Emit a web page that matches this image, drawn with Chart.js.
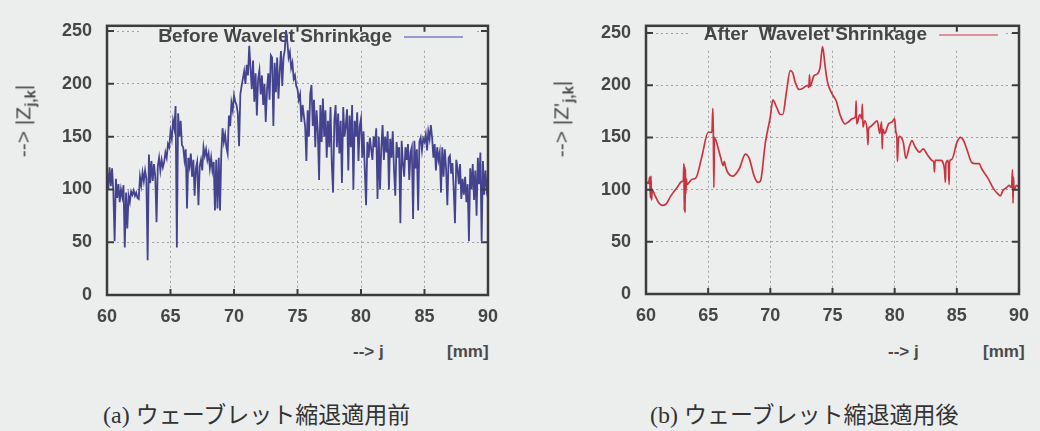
<!DOCTYPE html>
<html>
<head>
<meta charset="utf-8">
<script src="https://cdn.jsdelivr.net/npm/chart.js@4.4.1/dist/chart.umd.min.js"></script>
<style>
  html, body { margin: 0; padding: 0; background: #eceeed; }
  body { width: 1040px; height: 431px; position: relative; overflow: hidden;
         font-family: "Liberation Sans", Arial, sans-serif; color: #464646; }
  .box { position: absolute; top: 0; width: 520px; height: 340px; }
  .ytitle { position: absolute; transform: translate(-50%, -50%) rotate(-90deg);
            white-space: nowrap; font-size: 21px; color: #4a4a4a; }
  .ytitle sub { font-size: 15px; font-weight: bold; }
  .xt { position: absolute; font-size: 17px; font-weight: bold; transform: translateY(-50%); color: #4a4a4a; }
  .cap { position: absolute; top: 413px; transform: translateY(-50%); white-space: nowrap;
         font-family: "Liberation Serif", "Noto Sans CJK JP", serif; font-size: 24px; color: #333; }
  .cap span { font-family: "Noto Sans CJK JP", sans-serif; font-size: 23px; }
</style>
</head>
<body>
<div class="box" style="left:0"><canvas id="before"></canvas></div>
<div class="box" style="left:520px"><canvas id="after"></canvas></div>

<div class="ytitle" style="left:25px; top:121px">--&gt; |Z<sub>j,k</sub>|</div>
<div class="ytitle" style="left:563px; top:119px">--&gt; |Z'<sub>j,k</sub>|</div>
<div class="xt" style="left:353px; top:352px">--&gt; j</div>
<div class="xt" style="left:447px; top:352px">[mm]</div>
<div class="xt" style="left:888px; top:352px">--&gt; j</div>
<div class="xt" style="left:983px; top:352px">[mm]</div>
<div class="cap" style="left:103px">(a) <span>ウェーブレット縮退適用前</span></div>
<div class="cap" style="left:650px">(b) <span>ウェーブレット縮退適用後</span></div>

<script>
const xTicks = [60, 65, 70, 75, 80, 85, 90];
const yTicks = [0, 50, 100, 150, 200, 250];

// |Z_j,k| before shrinkage, one value every 0.1 mm from 60 to 90
const beforeStart = 60, beforeStep = 0.1;
const beforeVals = [
  118, 100, 121, 103, 120, 98, 51, 110, 92, 105,
  88, 100, 93, 104, 45, 97, 63, 94, 88, 98,
  95, 99, 94, 97, 92, 91, 112, 104, 116, 108,
  118, 110, 33, 133, 106, 127, 108, 124, 112, 69,
  122, 130, 118, 128, 121, 126, 135, 130, 143, 140,
  155, 148, 165, 158, 179, 45, 172, 150, 165, 142,
  140, 128, 138, 82, 130, 122, 134, 112, 128, 94,
  120, 126, 85, 122, 128, 118, 140, 132, 138, 128,
  134, 120, 130, 118, 126, 80, 128, 82, 130, 80,
  134, 158, 145, 152, 140, 134, 170, 160, 182, 175,
  189, 183, 180, 172, 141, 190, 198, 205, 212, 200,
  218, 208, 236, 215, 195, 222, 183, 210, 170, 205,
  213, 190, 208, 180, 200, 164, 195, 210, 185, 227,
  225, 160, 220, 192, 225, 186, 212, 231, 198, 225,
  232, 251, 240, 225, 230, 215, 220, 205, 208, 198,
  195, 185, 190, 164, 180, 170, 160, 127, 175, 150,
  190, 199, 160, 185, 140, 175, 155, 109, 180, 145,
  186, 150, 175, 130, 165, 140, 178, 124, 97, 165,
  180, 140, 172, 134, 165, 106, 178, 150, 160, 176,
  118, 170, 140, 180, 100, 165, 150, 173, 127, 160,
  167, 130, 155, 118, 85, 145, 130, 149, 138, 128,
  150, 140, 158, 91, 150, 100, 140, 161, 128, 150,
  135, 155, 100, 148, 130, 155, 118, 94, 145, 130,
  140, 68, 146, 125, 112, 140, 128, 143, 109, 135,
  140, 72, 146, 120, 138, 80, 145, 149, 137, 148,
  145, 152, 137, 155, 148, 161, 149, 130, 143, 118,
  140, 128, 135, 97, 140, 112, 138, 120, 85, 130,
  132, 115, 125, 100, 68, 128, 120, 105, 124, 91,
  110, 95, 112, 88, 105, 51, 120, 100, 124, 90,
  118, 75, 130, 105, 135, 51, 127, 95, 118, 100,
  108
];

// |Z'_j,k| after shrinkage (irregular sampling, denser around the spikes)
const afterX = [
  60.0, 60.2, 60.3, 60.35, 60.4, 60.45, 60.5, 60.7, 61.0, 61.3,
  61.6, 62.0, 62.5, 62.9, 63.0, 63.05, 63.08, 63.11, 63.14, 63.17,
  63.2, 63.25, 63.3, 63.7, 64.0, 64.5, 65.0, 65.3, 65.38, 65.42,
  65.46, 65.5, 65.6, 66.0, 66.2, 66.3, 66.4, 66.6, 67.0, 67.5,
  68.0, 68.3, 68.7, 69.0, 69.2, 69.6, 70.0, 70.2, 70.5, 70.8,
  71.0, 71.3, 71.6, 71.8, 72.0, 72.3, 72.6, 73.0, 73.1, 73.15,
  73.2, 73.5, 73.8, 74.0, 74.2, 74.4, 74.6, 75.0, 75.3, 75.6,
  76.0, 76.3, 76.6, 76.85, 76.9, 76.95, 77.2, 77.35, 77.4, 77.45,
  77.6, 77.8, 77.85, 77.9, 78.0, 78.3, 78.6, 78.8, 78.95, 79.0,
  79.05, 79.2, 79.5, 79.8, 80.0, 80.1, 80.18, 80.22, 80.3, 80.4,
  80.7, 80.9, 81.2, 81.4, 81.6, 82.0, 82.3, 82.6, 83.0, 83.15,
  83.2, 83.25, 83.7, 84.0, 84.08, 84.12, 84.3, 84.38, 84.42, 84.6,
  85.0, 85.3, 85.5, 85.8, 86.2, 86.5, 86.8, 87.0, 87.5, 88.0,
  88.3, 88.5, 88.7, 89.0, 89.2, 89.4, 89.48, 89.52, 89.56, 89.6,
  89.8, 90.0
];
const afterY = [
  108, 106, 112, 92, 113, 90, 100, 95, 88, 85,
  86, 94, 102, 108, 108, 125, 80, 122, 78, 120,
  96, 110, 105, 110, 111, 132, 155, 155, 178, 150,
  102, 150, 148, 131, 123, 127, 122, 116, 113, 120,
  134, 130, 113, 107, 108, 145, 170, 186, 179, 172,
  172, 194, 214, 212, 203, 196, 197, 200, 198, 210,
  199, 209, 211, 217, 237, 219, 203, 191, 185, 172,
  163, 165, 168, 170, 185, 163, 172, 168, 182, 160,
  166, 155, 143, 158, 160, 163, 166, 154, 165, 139,
  158, 154, 163, 165, 168, 155, 150, 127, 148, 151,
  145, 130, 142, 147, 142, 136, 139, 134, 128, 126,
  117, 128, 128, 120, 107, 125, 128, 105, 127, 129,
  145, 150, 148, 139, 126, 125, 125, 120, 111, 100,
  96, 94, 99, 102, 104, 102, 119, 87, 112, 100,
  104, 102
];

const PAPER = "#eceeed";
const INK = "#464646";

// gnuplot look: key over a blank band, heavy border, inward mirrored ticks
const gnuplotFrame = {
  id: "gnuplotFrame",
  beforeDatasetsDraw(chart, args, o) {
    const ctx = chart.ctx;
    const ds = chart.data.datasets[0];
    ctx.save();
    ctx.fillStyle = PAPER;
    ctx.fillRect(o.mask[0], o.mask[1], o.mask[2] - o.mask[0], o.mask[3] - o.mask[1]);
    ctx.font = "bold 19px 'Liberation Sans'";
    ctx.fillStyle = INK;
    ctx.textAlign = "right";
    ctx.textBaseline = "middle";
    ctx.fillText(ds.label, o.keyRight, o.keyY);
    ctx.strokeStyle = o.keyColor;
    ctx.lineWidth = 1.5;
    ctx.beginPath();
    ctx.moveTo(o.keyRight + 12, o.keyY);
    ctx.lineTo(o.keyRight + 71, o.keyY);
    ctx.stroke();
    ctx.restore();
  },
  afterDraw(chart) {
    const { ctx, chartArea: a, scales } = chart;
    ctx.save();
    ctx.strokeStyle = "#3c3c3c";
    ctx.lineWidth = 2.5;
    ctx.strokeRect(a.left, a.top, a.right - a.left, a.bottom - a.top);
    ctx.lineWidth = 2;
    ctx.beginPath();
    for (const v of xTicks) {
      const px = scales.x.getPixelForValue(v);
      ctx.moveTo(px, a.bottom); ctx.lineTo(px, a.bottom - 6);
      ctx.moveTo(px, a.top); ctx.lineTo(px, a.top + 6);
    }
    for (const v of yTicks) {
      const py = scales.y.getPixelForValue(v);
      ctx.moveTo(a.left, py); ctx.lineTo(a.left + 7, py);
      ctx.moveTo(a.right, py); ctx.lineTo(a.right - 7, py);
    }
    ctx.stroke();
    ctx.restore();
  }
};

function makeChart(id, cfg) {
  const grid = { color: "#a0a0a0", lineWidth: 1, drawTicks: false };
  const border = { display: false, dash: [2, 3] };
  const tickFont = { family: "Liberation Sans", size: 18, weight: "bold" };
  return new Chart(document.getElementById(id), {
    type: "line",
    data: {
      datasets: [{
        label: cfg.label,
        data: cfg.points,
        borderColor: cfg.color,
        borderWidth: cfg.width,
        pointRadius: 0,
        fill: false,
        cubicInterpolationMode: cfg.smooth ? "monotone" : "default",
        tension: cfg.smooth ? 0.4 : 0
      }]
    },
    options: {
      responsive: true,
      maintainAspectRatio: false,
      animation: false,
      events: [],
      layout: { padding: { top: cfg.top, right: cfg.right, left: 0, bottom: 0 } },
      plugins: {
        legend: { display: false },
        tooltip: { enabled: false },
        gnuplotFrame: { mask: cfg.mask, keyRight: cfg.keyRight, keyY: cfg.keyY, keyColor: cfg.keyColor }
      },
      scales: {
        x: {
          type: "linear", min: 60, max: 90,
          grid, border,
          afterBuildTicks: (s) => { s.ticks = xTicks.map((v) => ({ value: v })); },
          afterFit: (s) => { s.height = cfg.xHeight; },
          ticks: { font: tickFont, color: INK, padding: 11, maxRotation: 0 }
        },
        y: {
          min: 0, max: cfg.yMax,
          grid, border,
          afterBuildTicks: (s) => { s.ticks = yTicks.map((v) => ({ value: v })); },
          afterFit: (s) => { s.width = cfg.yWidth; },
          ticks: { font: tickFont, color: INK, padding: 15 }
        }
      }
    },
    plugins: [gnuplotFrame]
  });
}

makeChart("before", {
  label: "Before Wavelet Shrinkage",
  points: beforeVals.map((v, i) => ({ x: beforeStart + i * beforeStep, y: v })),
  color: "#44438f", keyColor: "#7d7cc4", width: 1.8, smooth: false,
  top: 17, right: 32, yWidth: 107, xHeight: 45, yMax: 255,
  mask: [140, 24, 476, 50], keyRight: 392, keyY: 37
});

makeChart("after", {
  label: "After  Wavelet Shrinkage",
  points: afterX.map((x, i) => ({ x, y: afterY[i] })),
  color: "#c9343f", keyColor: "#d9747b", width: 1.7, smooth: true,
  top: 15, right: 17, yWidth: 126, xHeight: 46, yMax: 257,
  mask: [168, 24, 486, 48], keyRight: 407, keyY: 35
});
</script>
</body>
</html>
